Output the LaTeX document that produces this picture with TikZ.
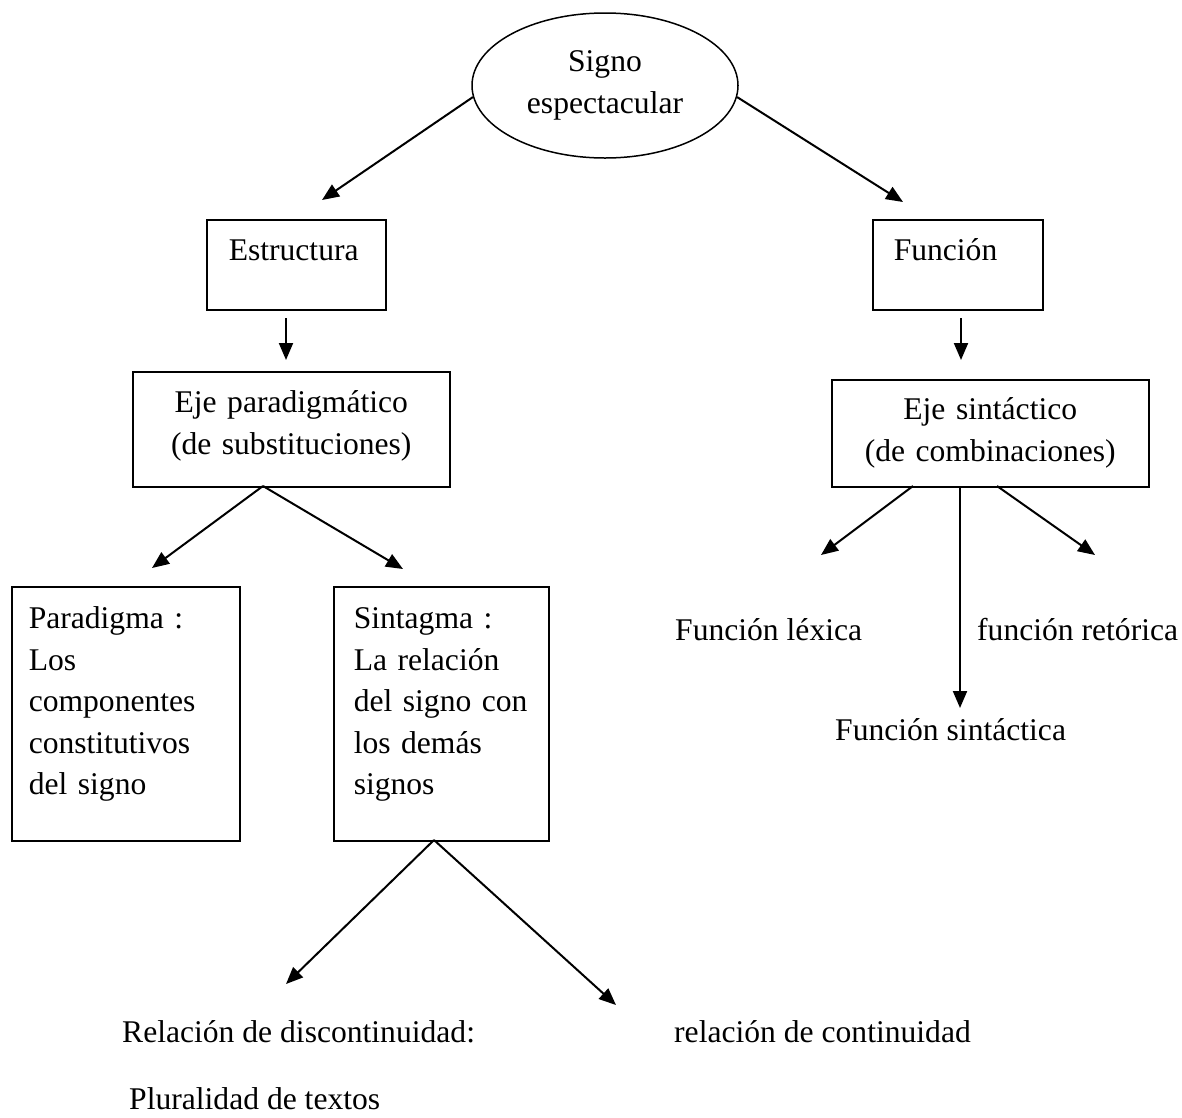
\documentclass[tikz,border=0pt]{standalone}
\usepackage{fontspec}
\setmainfont{Liberation Serif}
\usetikzlibrary{arrows.meta,shapes.geometric}

\begin{document}
\begin{tikzpicture}[x=1pt,y=-1pt,
  every node/.style={font=\fontsize{31.6}{41.5}\selectfont},
  frame/.style={draw, line width=1.5pt, inner ysep=0pt, anchor=north west},
  oval/.style={draw, ellipse, line width=1.5pt, inner sep=0pt,
    minimum width=266pt, minimum height=145pt, align=center},
  conn/.style={line width=2pt, -{Triangle[length=17pt,width=14pt]}},
  lbl/.style={anchor=base west, inner sep=0pt}]

\useasboundingbox (0,0) rectangle (1182,1117);

% top concept
\node[oval] (signo) at (605,85.5) {Signo\\espectacular};

% first level
\node[frame, text width=135pt, inner xsep=22pt, align=left,
      text height=41pt, text depth=49pt] (estr) at (206,219) {Estructura};
\node[frame, text width=128pt, inner xsep=21pt, align=left,
      text height=41pt, text depth=49pt] (func) at (872,219) {Función};

% axes
\node[frame, text width=317pt, inner xsep=0pt, align=center,
      text height=41pt, text depth=74pt] (ejep) at (132,371)
      {Eje paradigmático\\(de substituciones)};
\node[frame, text width=317pt, inner xsep=0pt, align=center,
      text height=40pt, text depth=67pt] (ejes) at (831,379)
      {Eje sintáctico\\(de combinaciones)};

% paradigm / syntagm
\node[frame, text width=194pt, inner xsep=17pt, align=left,
      text height=42pt, text depth=212pt] (parad) at (11,586)
      {Paradigma :\\Los\\componentes\\constitutivos\\del signo};
\node[frame, text width=175pt, inner xsep=20pt, align=left,
      text height=42pt, text depth=212pt] (sintag) at (333,586)
      {Sintagma :\\La relación\\del signo con\\los demás\\signos};

% free labels
\node[lbl] (lex)  at (675,640)  {Función léxica};
\node[lbl] (ret)  at (977,640)  {función retórica};
\node[lbl] (sint) at (835,740)  {Función sintáctica};
\node[lbl] (disc) at (122,1042) {Relación de discontinuidad:};
\node[lbl] (cont) at (674,1042) {relación de continuidad};
\node[lbl] (plur) at (129,1109) {Pluralidad de textos};

% connector ends
\coordinate (tEstr) at (322,200);
\coordinate (tFunc) at (903,202);
\coordinate (sEstr) at (286,318);
\coordinate (tEjep) at (286,360);
\coordinate (sFunc) at (961,318);
\coordinate (tEjes) at (961,360);
\coordinate (sEjep) at (263,486);
\coordinate (tParad) at (152,568);
\coordinate (tSintag) at (403,569);
\coordinate (sLex) at (913,486);
\coordinate (sSint) at (960,486);
\coordinate (sRet) at (997,486);
\coordinate (tLex) at (821,555);
\coordinate (tSint) at (960,708);
\coordinate (tRet) at (1095,555);
\coordinate (sRel) at (434,840);
\coordinate (tDisc) at (286,984);
\coordinate (tCont) at (616,1005);

% connectors
\draw[conn] (signo.185) -- (tEstr);
\draw[conn] (signo.355) -- (tFunc);
\draw[conn] (sEstr) -- (tEjep);
\draw[conn] (sFunc) -- (tEjes);
\draw[conn] (sEjep) -- (tParad);
\draw[conn] (sEjep) -- (tSintag);
\draw[conn] (sLex) -- (tLex);
\draw[conn] (sSint) -- (tSint);
\draw[conn] (sRet) -- (tRet);
\draw[conn] (sRel) -- (tDisc);
\draw[conn] (sRel) -- (tCont);
\end{tikzpicture}
\end{document}
